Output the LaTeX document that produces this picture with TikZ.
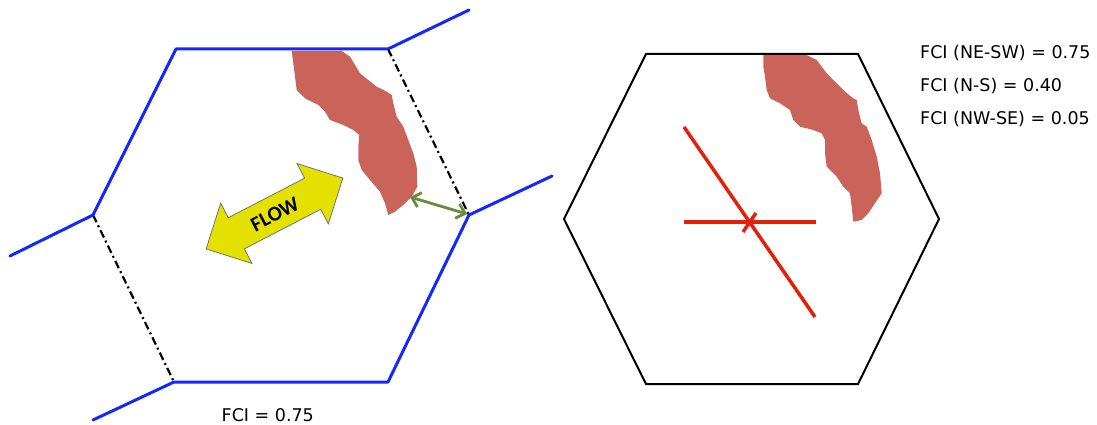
\documentclass[tikz,border=0pt]{standalone}
\usepackage{fontspec}
\setmainfont{DejaVu Sans}
\newfontfamily\flowfont{Carlito}
\usetikzlibrary{arrows.meta}
\definecolor{hexblue}{RGB}{18,40,252}
\definecolor{blobred}{RGB}{202,100,90}
\definecolor{crossred}{RGB}{228,32,10}
\definecolor{flowyellow}{RGB}{228,224,0}
\definecolor{gapgreen}{RGB}{106,138,60}
\begin{document}
\begin{tikzpicture}[x=1pt,y=-1pt,
  blueedge/.style={draw=hexblue,line width=3pt,line join=round,line cap=round},
  dashedge/.style={draw=black,line width=2.2pt,dash pattern=on 8pt off 3.5pt on 2pt off 3.5pt},
  hexedge/.style={draw=black,line width=2pt,line join=miter},
  blob/.style={fill=blobred,draw=none},
  crossline/.style={draw=crossred,line width=3.5pt},
  gaparrow/.style={draw=gapgreen,line width=2.8pt,{Straight Barb[length=8pt,width=15pt]}-{Straight Barb[length=8pt,width=15pt]}},
  label/.style={inner sep=0pt,anchor=base west,font=\fontsize{17.5}{20}\selectfont}
]
\useasboundingbox (0,0) rectangle (1097,425);

% ---------- left hexagon ----------
\coordinate (LTL) at (176,49);
\coordinate (LTR) at (388,49);
\coordinate (LR)  at (469,215);
\coordinate (LBR) at (388,382);
\coordinate (LBL) at (174,382);
\coordinate (LL)  at (93,215);
\coordinate (E1) at (10,256);
\coordinate (E2) at (469,10);
\coordinate (E3) at (552,176);
\coordinate (E4) at (93,420);

% blob (left)
\fill[blob] (291.7,51) -- (341.7,51) -- (350,56.7) -- (355,65) -- (360,73.3) -- (368.3,80) -- (376.7,86.7) -- (386.7,91.7) -- (391.7,95) -- (393.3,103.3) -- (396.7,116.7) -- (403.3,126.7) -- (408.3,140) -- (413.3,153.3) -- (416.7,166.7) -- (417.3,186.7) -- (411.7,196.7) -- (403.3,205) -- (395,211.7) -- (388.3,215) -- (385,203.3) -- (380,191.7) -- (370,180) -- (361.7,170) -- (358.3,160) -- (358.3,146.7) -- (359.3,135) -- (353.3,130) -- (343.3,125) -- (330,120) -- (325,111.7) -- (318.3,105) -- (305,98.3) -- (296.7,90) -- (295,76.7) -- (293.3,63.3) -- cycle;

\draw[dashedge] (LTR) -- (LR);
\draw[dashedge] (LL) -- (LBL);
\draw[blueedge] (E1) -- (LL) -- (LTL) -- (LTR) -- (E2);
\draw[blueedge] (E3) -- (LR) -- (LBR) -- (LBL) -- (E4);

% gap arrow
\coordinate (G1) at (410,197);
\coordinate (G2) at (467,214);
\draw[gaparrow] (G1) -- (G2);

% FLOW arrow
\begin{scope}[shift={(274.5,213.5)},rotate=27.4]
  \filldraw[fill=flowyellow,draw=black!55,line width=0.8pt,line join=miter]
    (77,0) -- (43,34) -- (43,17.5) -- (-43,17.5) -- (-43,34) -- (-77,0)
    -- (-43,-34) -- (-43,-17.5) -- (43,-17.5) -- (43,-34) -- cycle;
  \node[transform shape,inner sep=0pt] (flow) at (0,1) {\flowfont\bfseries\fontsize{21}{22}\selectfont FLOW};
\end{scope}

\node[label] (fci) at (221.5,421.5) {FCI = 0.75};

% ---------- right hexagon ----------
\coordinate (RTL) at (646,54);
\coordinate (RTR) at (858,54);
\coordinate (RR)  at (939,219);
\coordinate (RBR) at (858,384);
\coordinate (RBL) at (646,384);
\coordinate (RL)  at (564,219);

\fill[blob] (763.3,55) -- (806.7,55) -- (816.7,60) -- (826.7,73.3) -- (836.7,83.3) -- (845,91.7) -- (853.3,98.3) -- (856.7,100) -- (858.3,110) -- (861.7,123.3) -- (866.7,126.7) -- (871.7,140) -- (876.7,156.7) -- (880,173.3) -- (881.7,193.3) -- (875,203.3) -- (868.3,213.3) -- (861.7,220) -- (853.3,221.7) -- (851.7,206.7) -- (850,193.3) -- (843.3,186.7) -- (836.7,176.7) -- (831.7,171.7) -- (826.7,166.7) -- (825,153.3) -- (825,140) -- (821.7,133.3) -- (813.3,130) -- (800,126.7) -- (793.3,120) -- (790,110) -- (780,103.3) -- (770,98.3) -- (766.7,90) -- (765,76.7) -- (763.3,66.7) -- cycle;

\draw[hexedge] (RTL) -- (RTR) -- (RR) -- (RBR) -- (RBL) -- (RL) -- cycle;

\coordinate (D1) at (684,127);
\coordinate (D2) at (815,317);
\coordinate (H1) at (684,222);
\coordinate (H2) at (816,222);
\coordinate (X1) at (743,232);
\coordinate (X2) at (756,213);
\draw[crossline] (H1) -- (H2);
\draw[crossline] (D1) -- (D2);
\draw[crossline] (X1) -- (X2);

\node[label] (fci1) at (920,58.5) {FCI (NE-SW) = 0.75};
\node[label] (fci2) at (920,91.5) {FCI (N-S) = 0.40};
\node[label] (fci3) at (920,124.5) {FCI (NW-SE) = 0.05};
\end{tikzpicture}
\end{document}
